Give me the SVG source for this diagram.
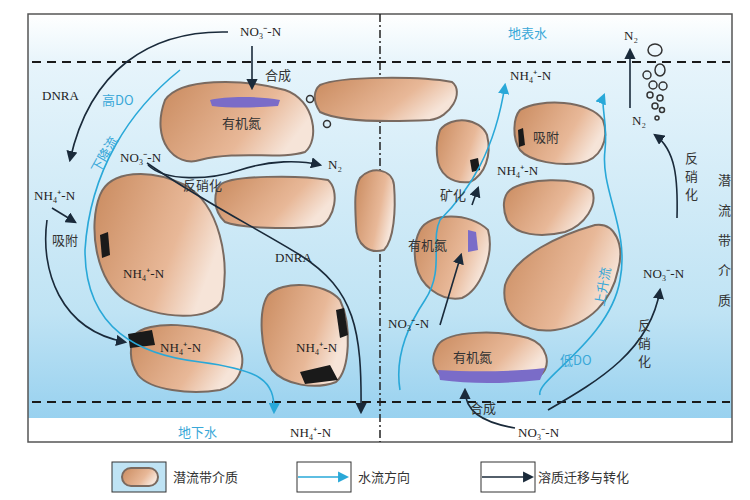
<svg xmlns="http://www.w3.org/2000/svg" width="750" height="500" viewBox="0 0 750 500">
<defs>
<linearGradient id="water" x1="0" y1="0" x2="0" y2="1">
<stop offset="0" stop-color="#ffffff"/><stop offset="0.12" stop-color="#e6f4fb"/><stop offset="0.7" stop-color="#bfe3f4"/><stop offset="1" stop-color="#8fcdee"/>
</linearGradient>
<linearGradient id="grain" x1="0" y1="0" x2="1" y2="0.4">
<stop offset="0" stop-color="#c98a5e"/><stop offset="0.7" stop-color="#e8b898"/><stop offset="1" stop-color="#f6e4d8"/>
</linearGradient>
<marker id="ab" viewBox="0 0 10 10" refX="8" refY="5" markerWidth="7" markerHeight="7" orient="auto"><path d="M0,0L10,5L0,10z" fill="#1a2a3a"/></marker>
<marker id="ac" viewBox="0 0 10 10" refX="8" refY="5" markerWidth="7" markerHeight="7" orient="auto"><path d="M0,0L10,5L0,10z" fill="#29a8d8"/></marker>
</defs>
<style>
.g{fill:url(#grain);stroke:#7a6a60;stroke-width:2}
.t{font-family:"Liberation Serif","Noto Sans CJK SC",serif;font-size:13px;fill:#222}
.c{font-family:"Noto Sans CJK SC",serif;font-size:13px;fill:#333}
.b{font-family:"Noto Sans CJK SC",serif;font-size:13px;fill:#3aa8d8}
.bk{fill:none;stroke:#1a2a3a;stroke-width:1.6}
.bl{fill:none;stroke:#29a8d8;stroke-width:1.6}
.dash{stroke:#1a1a1a;stroke-width:2;stroke-dasharray:9,6}
.pur{fill:#7a6cc8}
.blk{fill:#1a1a1a}
</style>
<rect width="750" height="500" fill="#fff"/>
<rect x="28" y="14" width="704" height="428" fill="url(#water)"/>
<rect x="28" y="418" width="704" height="24" fill="#fff"/>
<rect x="28" y="14" width="704" height="428" fill="none" stroke="#555" stroke-width="1.5"/>
<line class="dash" x1="32" y1="62" x2="730" y2="62"/>
<line class="dash" x1="32" y1="402" x2="730" y2="402"/>
<line x1="380" y1="14" x2="380" y2="442" stroke="#222" stroke-width="1.5" stroke-dasharray="8,3,2,3"/>

<g id="grains">
<path class="g" d="M165,100C180,78 240,78 285,90C315,100 320,140 305,152C280,160 240,150 200,160C175,168 150,140 165,100z"/>
<path class="g" d="M320,85C340,76 420,76 452,82C465,92 450,118 430,120C390,122 340,122 320,112C312,100 314,90 320,85z"/>
<path class="g" d="M360,178C370,166 392,168 394,185C396,210 394,240 384,250C370,254 356,246 356,225C355,205 354,188 360,178z"/>
<path class="g" d="M100,195C110,170 150,168 185,185C220,205 230,260 222,300C212,322 160,320 125,300C95,280 88,225 100,195z"/>
<path class="g" d="M220,185C230,175 300,175 328,180C340,190 335,220 320,226C290,230 240,228 225,222C212,210 214,192 220,185z"/>
<path class="g" d="M135,335C145,320 205,322 235,340C250,360 240,385 220,390C190,395 150,390 138,375C128,360 130,345 135,335z"/>
<path class="g" d="M268,295C282,280 325,282 340,300C352,325 350,370 336,382C315,390 285,385 272,370C260,350 258,310 268,295z"/>
<path class="g" d="M440,130C452,115 480,118 487,135C492,155 485,175 470,182C452,184 438,175 437,155C436,145 437,138 440,130z"/>
<path class="g" d="M520,110C540,98 590,100 603,120C610,140 600,160 580,163C560,166 530,162 520,150C512,138 513,118 520,110z"/>
<path class="g" d="M510,190C525,178 575,176 592,190C598,205 585,225 565,232C540,238 515,235 507,220C502,208 503,196 510,190z"/>
<path class="g" d="M420,230C430,212 470,212 488,230C495,255 480,290 462,298C440,302 420,285 416,265C413,250 415,240 420,230z"/>
<path class="g" d="M505,285C515,255 560,235 595,225C615,222 625,245 618,270C612,300 590,325 555,330C525,334 500,315 505,285z"/>
<path class="g" d="M438,345C448,330 500,330 528,338C548,345 552,365 540,376C510,382 468,382 440,375C430,365 432,355 438,345z"/>
</g>
<g id="deposits">
<path class="pur" d="M210,100C225,96 260,96 280,100L278,106C255,108 228,108 212,106z"/>
<path class="pur" d="M438,370C470,372 510,372 545,368L540,380C505,384 470,384 440,380z"/>
<path class="pur" d="M468,230L476,232L478,250L468,252z"/>
<path class="blk" d="M100,235L108,232L110,255L102,258z"/>
<path class="blk" d="M128,334L152,330L155,345L130,348z"/>
<path class="blk" d="M336,310L344,308L348,335L340,338z"/>
<path class="blk" d="M300,372L330,365L338,380L305,384z"/>
<path class="blk" d="M470,160L478,158L480,170L472,172z"/>
<path class="blk" d="M518,130L523,128L525,145L519,147z"/>
</g>

<g id="connectors">
<path class="bl" d="M180,70C130,110 90,170 85,250C85,330 140,355 200,362C260,370 275,380 274,412" marker-end="url(#ac)"/>
<path class="bl" d="M400,390C395,360 405,330 425,300C445,270 430,240 440,220C470,190 495,150 505,85" marker-end="url(#ac)"/>
<path class="bl" d="M540,395C535,380 610,340 620,280C630,230 600,190 605,150C608,120 600,105 604,95" marker-end="url(#ac)"/>
<path class="bk" d="M228,32C150,30 90,70 70,160" marker-end="url(#ab)"/>
<path class="bk" d="M252,46L252,88" marker-end="url(#ab)"/>
<path class="bk" d="M148,165C165,182 210,180 240,170C270,160 300,160 320,165" marker-end="url(#ab)"/>
<path class="bk" d="M147,163C200,200 260,230 300,255C355,290 362,330 361,412" marker-end="url(#ab)"/>
<path class="bk" d="M52,208L75,222" marker-end="url(#ab)"/>
<path class="bk" d="M47,220C40,270 60,330 125,342" marker-end="url(#ab)"/>
<path class="bk" d="M440,325L461,255" marker-end="url(#ab)"/>
<path class="bk" d="M472,205L478,188" marker-end="url(#ab)"/>
<path class="bk" d="M630,108L630,50" marker-end="url(#ab)"/>
<path class="bk" d="M677,218C678,180 676,150 655,135" marker-end="url(#ab)"/>
<path class="bk" d="M515,428C480,422 465,410 465,390" marker-end="url(#ab)"/>
<path class="bk" d="M548,410C600,380 650,350 660,290" marker-end="url(#ab)"/>
</g>
<g id="bubbles" fill="none" stroke="#333" stroke-width="1.5">
<ellipse cx="655" cy="50" rx="7" ry="6"/><ellipse cx="660" cy="70" rx="5" ry="6"/><circle cx="647" cy="75" r="4"/><circle cx="653" cy="85" r="4"/><circle cx="663" cy="86" r="4"/><circle cx="650" cy="95" r="3"/><circle cx="660" cy="98" r="3"/><circle cx="655" cy="106" r="3"/><circle cx="662" cy="110" r="2.5"/><circle cx="657" cy="118" r="2"/>
<circle cx="310" cy="99" r="3.5"/><circle cx="327" cy="124" r="3.5"/>
</g>
<g id="labels">
<text class="t" x="240" y="36">NO₃⁻-N</text>
<text class="c" x="265" y="80">合成</text>
<text class="t" x="42" y="100">DNRA</text>
<text class="b" x="102" y="105">高DO</text>
<text class="b" x="85" y="170" transform="rotate(-60 95 160)">下降流</text>
<text class="t" x="120" y="162">NO₃⁻-N</text>
<text class="c" x="222" y="128">有机氮</text>
<text class="t" x="328" y="169">N₂</text>
<text class="c" x="183" y="190">反硝化</text>
<text class="t" x="34" y="200">NH₄⁺-N</text>
<text class="c" x="52" y="245">吸附</text>
<text class="t" x="123" y="278">NH₄⁺-N</text>
<text class="t" x="275" y="262">DNRA</text>
<text class="t" x="160" y="352">NH₄⁺-N</text>
<text class="t" x="296" y="352">NH₄⁺-N</text>
<text class="b" x="178" y="437">地下水</text>
<text class="t" x="290" y="437">NH₄⁺-N</text>
<text class="b" x="508" y="38">地表水</text>
<text class="t" x="624" y="40">N₂</text>
<text class="t" x="510" y="80">NH₄⁺-N</text>
<text class="t" x="632" y="125">N₂</text>
<text class="c" x="533" y="142">吸附</text>
<text class="t" x="497" y="175">NH₄⁺-N</text>
<text class="c" x="440" y="200">矿化</text>
<text class="c" x="408" y="250">有机氮</text>
<text class="c" x="685" y="163">反</text><text class="c" x="685" y="181">硝</text><text class="c" x="685" y="199">化</text>
<text class="c" x="718" y="185">潜</text><text class="c" x="718" y="215">流</text><text class="c" x="718" y="245">带</text><text class="c" x="718" y="275">介</text><text class="c" x="718" y="305">质</text>
<text class="t" x="643" y="278">NO₃⁻-N</text>
<text class="b" x="590" y="310" transform="rotate(-80 595 300)">上升流</text>
<text class="t" x="388" y="328">NO₃⁻-N</text>
<text class="c" x="638" y="330">反</text><text class="c" x="638" y="348">硝</text><text class="c" x="638" y="366">化</text>
<text class="c" x="453" y="362">有机氮</text>
<text class="b" x="560" y="365">低DO</text>
<text class="c" x="470" y="413">合成</text>
<text class="t" x="518" y="437">NO₃⁻-N</text>
</g>
<g id="legend">
<rect x="112" y="462" width="54" height="30" fill="#bfe3f4" stroke="#333"/>
<rect x="122" y="468" width="36" height="18" rx="9" class="g"/>
<text class="c" x="173" y="482">潜流带介质</text>
<rect x="297" y="462" width="54" height="30" fill="#fff" stroke="#333"/>
<path class="bl" d="M298,477L347,477" marker-end="url(#ac)"/>
<text class="c" x="358" y="482">水流方向</text>
<rect x="481" y="462" width="54" height="30" fill="#fff" stroke="#333"/>
<path class="bk" d="M482,477L532,477" marker-end="url(#ab)"/>
<text class="c" x="538" y="482">溶质迁移与转化</text>
</g>
</svg>
